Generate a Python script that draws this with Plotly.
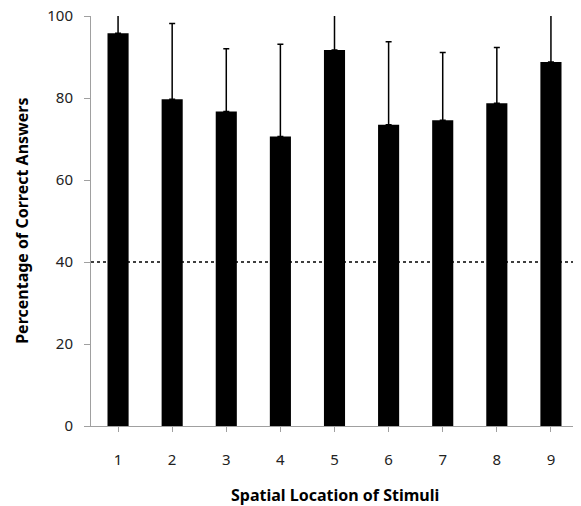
import plotly.graph_objects as go

categories = ["1", "2", "3", "4", "5", "6", "7", "8", "9"]
values = [95.8, 79.7, 76.7, 70.6, 91.7, 73.5, 74.6, 78.7, 88.8]
err_plus = [12.0, 18.5, 15.3, 22.5, 14.0, 20.2, 16.5, 13.6, 13.0]
y_ticks = [0, 20, 40, 60, 80, 100]
chance_level = 40

FONT = "Noto Sans"

fig = go.Figure()
fig.add_trace(go.Bar(
    x=categories, y=values,
    marker=dict(color="black", line=dict(width=0)),
    error_y=dict(type="data", symmetric=False, array=err_plus,
                 arrayminus=[0] * len(values),
                 color="black", thickness=1.5, width=3),
    width=0.39,
))
fig.add_shape(type="line", xref="paper", yref="y", x0=0, x1=1,
              y0=chance_level, y1=chance_level,
              line=dict(color="black", width=1.5, dash="dot"), layer="below")

fig.add_annotation(text="<b>Spatial Location of Stimuli</b>", xref="paper", yref="paper",
                   x=0.5, y=-0.168, xanchor="center", yanchor="middle", showarrow=False,
                   font=dict(size=16, family=FONT, color="black"))
fig.add_annotation(text="<b>Percentage of Correct Answers</b>", xref="paper", yref="paper",
                   x=-0.142, y=0.5, xanchor="center", yanchor="middle", showarrow=False,
                   textangle=-90, font=dict(size=16, family=FONT, color="black"))

# the page body has an 8px default margin; size the figure to fit the window
fig.update_layout(
    width=573, height=498,
    margin=dict(l=83, r=3, t=8, b=80, autoexpand=False),
    paper_bgcolor="white", plot_bgcolor="white",
    showlegend=False,
    font=dict(family=FONT, color="#222", size=15),
    xaxis=dict(
        type="category", range=[-0.5, 8.5], automargin=False,
        showline=True, linecolor="#a0a0a0", linewidth=1,
        ticks="outside", ticklen=5, tickcolor="#a0a0a0",
        ticklabelstandoff=15, ticklabeloverflow="allow",
        tickfont=dict(size=15, family=FONT, color="#222"),
        showgrid=False,
    ),
    yaxis=dict(
        range=[0, 100], tickvals=y_ticks, automargin=False,
        showline=True, linecolor="#a0a0a0", linewidth=1,
        ticks="outside", ticklen=6, tickcolor="#a0a0a0",
        ticklabelstandoff=8, ticklabeloverflow="allow",
        tickfont=dict(size=15, family=FONT, color="#222"),
        showgrid=False, zeroline=False,
    ),
)

fig.write_html("out.html")
